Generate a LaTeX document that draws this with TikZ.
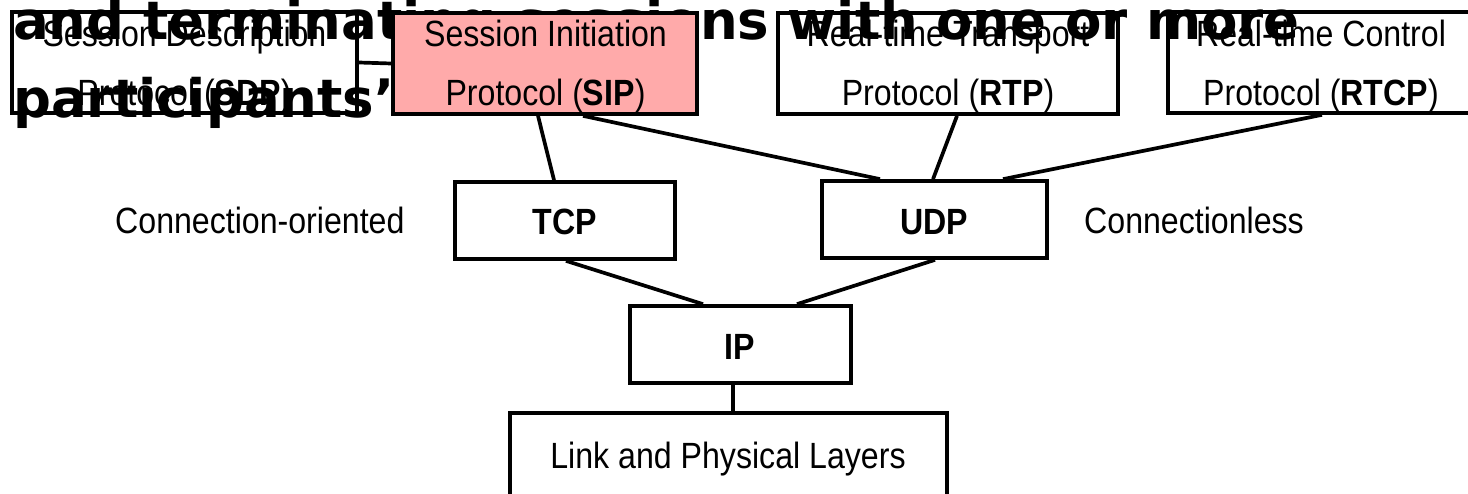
\documentclass[tikz,border=0pt]{standalone}
\usepackage{fontspec}
\setmainfont{Liberation Sans}[FakeStretch=0.88]
\newfontfamily\ovfont{DejaVu Sans}
\definecolor{sippink}{RGB}{255,170,170}
\begin{document}
\begin{tikzpicture}[x=1pt,y=-1pt,
  box/.style={draw=black, line width=3.7pt, inner sep=0pt},
  conn/.style={draw=black, line width=3.7pt},
  lbl/.style={inner sep=0pt, anchor=base, font=\fontsize{36.5}{43}\selectfont},
  side/.style={inner sep=0pt, anchor=base west, font=\fontsize{36.5}{43}\selectfont},
  ov/.style={inner sep=0pt, anchor=base west, font=\ovfont\bfseries\fontsize{53}{60}\selectfont}]
\clip (0,0) rectangle (1468,494);
% overlay text
\node[ov] (ov1) at (13,40) {and terminating sessions with one or more};
\node[ov] (ov2) at (13,118) {participants’};
% boxes
\node[box, minimum width=345pt, minimum height=101pt] (sdp) at (184.5,62.5) {};
\node[box, fill=sippink, minimum width=304pt, minimum height=101pt] (sip) at (545,63.5) {};
\node[box, minimum width=340pt, minimum height=101pt] (rtp) at (948,63.5) {};
\node[box, minimum width=308pt, minimum height=101pt] (rtcp) at (1322,62.5) {};
\node[box, minimum width=220pt, minimum height=77pt] (tcp) at (565,220.5) {};
\node[box, minimum width=225pt, minimum height=77pt] (udp) at (934.5,219.5) {};
\node[box, minimum width=221pt, minimum height=77pt] (ip) at (740.5,344.5) {};
\node[box, minimum width=437pt, minimum height=107pt] (link) at (728.5,466.5) {};
% connectors
\draw[conn] (sdp.east) -- (sip.west);
\draw[conn] ([xshift=-7pt]sip.south) -- ([xshift=-11pt]tcp.north);
\draw[conn] ([xshift=38pt]sip.south) -- ([xshift=-54.5pt]udp.north);
\draw[conn] ([xshift=9pt]rtp.south) -- ([xshift=-1.5pt]udp.north);
\draw[conn] (rtcp.south) -- ([xshift=68.5pt]udp.north);
\draw[conn] ([xshift=1pt]tcp.south) -- ([xshift=-37.5pt]ip.north);
\draw[conn] ([xshift=0.5pt]udp.south) -- ([xshift=56.5pt]ip.north);
\draw[conn] ([xshift=-7.5pt]ip.south) -- ([xshift=4.5pt]link.north);
% labels
\node[lbl] (sdpa) at (184.5,47) {Session Description};
\node[lbl] (sdpb) at (184.5,106) {Protocol (\textbf{SDP})};
\node[lbl] (sipa) at (545.5,47) {Session Initiation};
\node[lbl] (sipb) at (545.5,106) {Protocol (\textbf{SIP})};
\node[lbl] (rtpa) at (948,47) {Real-time Transport};
\node[lbl] (rtpb) at (948,106) {Protocol (\textbf{RTP})};
\node[lbl] (rtcpa) at (1321,47) {Real-time Control};
\node[lbl] (rtcpb) at (1321,106) {Protocol (\textbf{RTCP})};
\node[lbl] (tcpl) at (565,235) {\textbf{TCP}};
\node[lbl] (udpl) at (934.5,235) {\textbf{UDP}};
\node[lbl] (ipl) at (740,360) {\textbf{IP}};
\node[lbl] (linkl) at (728,468) {Link and Physical Layers};
\node[side] (co) at (115,234) {Connection-oriented};
\node[side] (cl) at (1084,234) {Connectionless};
\end{tikzpicture}
\end{document}
